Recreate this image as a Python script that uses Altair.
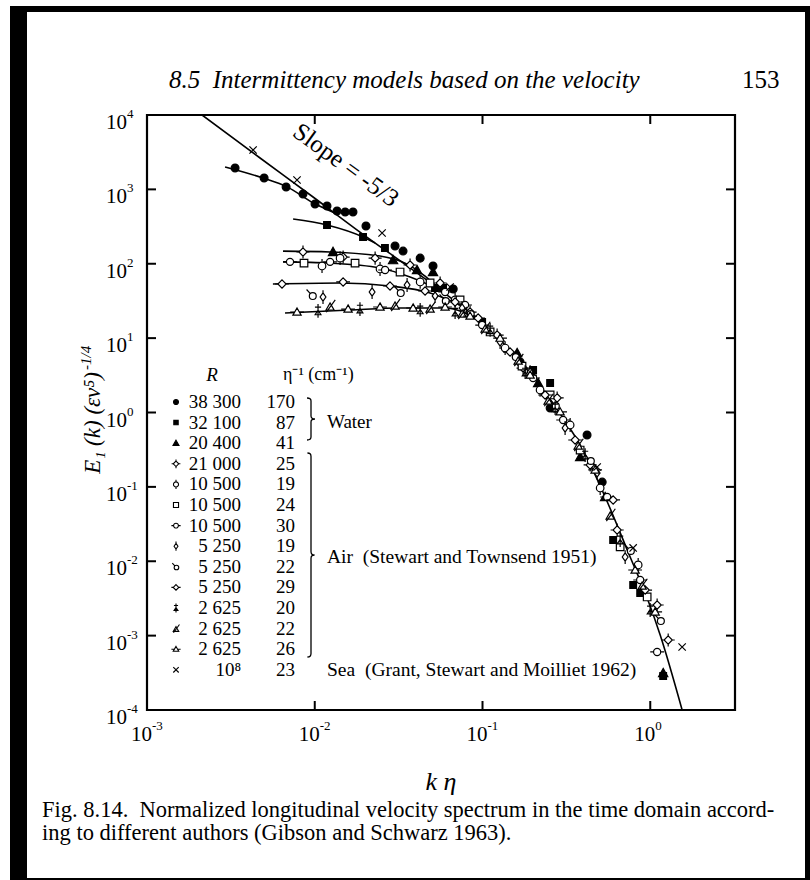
import altair as alt
import pandas as pd

FONT = "Liberation Serif"
W, H = 588, 595          # plot area (pixels)
PAD_L, PAD_T, PAD_R, PAD_B = 147, 115, 75, 170

X_DOMAIN = [0.001, 3.2]
Y_DOMAIN = [1e-4, 1e4]

x_decades = [0.001, 0.01, 0.1, 1.0]
x_exponents = ["-3", "-2", "-1", "0"]
y_decades = [1e4, 1e3, 1e2, 1e1, 1.0, 0.1, 0.01, 0.001, 1e-4]
y_exponents = ["4", "3", "2", "1", "0", "-1", "-2", "-3", "-4"]

# ---------------- fitted curves ----------------
main_k = [0.00213, 0.00472, 0.00977, 0.0186, 0.0407, 0.0559, 0.0735, 0.0967, 0.146, 0.2117, 0.3024, 0.3819, 0.5384, 0.7589, 0.9583, 1.146, 1.549]
main_E = [10000, 2642, 790, 267, 75.2, 44.4, 27.9, 17.0, 6.92, 2.57, 0.843, 0.366, 0.0731, 0.0114, 0.00321, 0.00102, 0.0001]
circ_k = [0.00292, 0.00492, 0.00684, 0.00977, 0.0132]
circ_E = [2000, 1420, 1080, 660, 480]
sq_k = [0.00743, 0.01183, 0.0194, 0.0229]
sq_E = [400, 332, 229, 190]
bra_k = [0.00647, 0.01233, 0.0245, 0.03456, 0.04546, 0.0559]
bra_E = [148, 144, 127, 102, 68.4, 44.4]
brb_k = [0.00647, 0.01233, 0.0245, 0.0370, 0.0559]
brb_E = [106, 102, 87.7, 66.3, 44.4]
brc_k = [0.00563, 0.01416, 0.0281, 0.0487, 0.0735]
brc_E = [53.4, 55.1, 50.2, 40.4, 27.9]
brd_k = [0.00665, 0.01624, 0.03225, 0.05984, 0.0967]
brd_E = [21.8, 23.9, 25.4, 25.4, 17.0]

# ---------------- measured points ----------------
w38300_k = [0.00335, 0.00499, 0.00675, 0.00851, 0.01004, 0.01183, 0.01358, 0.01518, 0.0169, 0.0202, 0.0301, 0.0336, 0.0425, 0.0507, 0.0669, 0.1675, 0.253, 0.420, 0.517]
w38300_E = [1938, 1422, 1076, 866, 636, 598, 512, 497, 497, 322, 173, 148, 119, 93.3, 45.8, 4.78, 1.15, 0.498, 0.116]
w32100_k = [0.01183, 0.0194, 0.0262, 0.0521, 0.0582, 0.0995, 0.2003, 0.253, 0.601, 0.791, 0.871, 1.194]
w32100_E = [332, 229, 163, 47.2, 47.2, 16.5, 3.73, 2.49, 0.0193, 0.0048, 0.00374, 0.000286]
w20400_k = [0.01285, 0.0293, 0.0407, 0.0507, 0.1608, 0.2146, 0.382, 0.538, 0.895, 1.194]
w20400_E = [144, 112, 82.4, 77.4, 6.31, 2.49, 0.252, 0.0731, 0.0041, 0.000314]
a21000_k = [0.00851, 0.01476, 0.0229, 0.0370, 0.0559, 0.0843, 0.1222, 0.1746, 0.2786, 0.4382, 0.6348, 1.099, 1.279]
a21000_E = [144, 123, 119, 96.2, 55.1, 22.4, 11.0, 3.96, 1.57, 0.197, 0.0263, 0.00258, 0.000873]
a10500a_k = [0.01105, 0.01416, 0.0245, 0.0425, 0.06865, 0.1364, 0.2204, 0.333, 0.5028, 0.8471]
a10500a_E = [93.3, 119, 85.0, 56.9, 32.6, 7.36, 2.01, 0.679, 0.0966, 0.00891]
a10500b_k = [0.00863, 0.01739, 0.03225, 0.0487, 0.0735, 0.111, 0.172, 0.253, 0.3819, 0.6615, 0.9583]
a10500b_E = [102, 102, 77.4, 55.1, 32.6, 12.1, 4.2, 1.72, 0.313, 0.0156, 0.00331]
a10500c_k = [0.00712, 0.01234, 0.02626, 0.05984, 0.0787, 0.0995, 0.2003, 0.3024, 0.5534, 0.8706, 1.099]
a10500c_E = [106, 106, 82.4, 41.7, 27.9, 15.0, 2.91, 0.793, 0.0731, 0.0056, 0.000603]
a5250a_k = [0.0112, 0.02197, 0.03552, 0.05217, 0.07557, 0.1273, 0.1922, 0.3107, 0.4825, 0.7086]
a5250a_E = [35.7, 41.7, 51.8, 36.9, 25.4, 8.87, 3.50, 0.619, 0.154, 0.0114]
a5250b_k = [0.00964, 0.03225, 0.05984, 0.0843, 0.1564, 0.271, 0.4382, 0.7589, 1.146]
a5250b_E = [38.0, 41.7, 32.6, 21.8, 5.75, 1.26, 0.230, 0.0142, 0.00162]
a5250c_k = [0.00638, 0.01476, 0.0281, 0.04546, 0.06865, 0.0942, 0.146, 0.2362, 0.3566, 0.6008, 0.9324]
a5250c_E = [53.4, 56.9, 50.2, 43.0, 30.6, 18.6, 6.50, 1.72, 0.427, 0.0667, 0.0041]
a2625a_k = [0.01046, 0.0186, 0.0425, 0.06865, 0.111, 0.1795, 0.271, 0.409, 0.6615, 0.9986]
a2625a_E = [23.2, 24.6, 23.9, 22.4, 12.9, 3.50, 1.15, 0.268, 0.0193, 0.00221]
a2625b_k = [0.01234, 0.0301, 0.0487, 0.07557, 0.1036, 0.1631, 0.2461, 0.3716, 0.5768, 0.8948]
a2625b_E = [27.0, 27.9, 25.4, 21.8, 13.7, 5.08, 1.47, 0.366, 0.0419, 0.0048]
a2625c_k = [0.00784, 0.0158, 0.0245, 0.03858, 0.05984, 0.0843, 0.1273, 0.1922, 0.2901, 0.4693, 0.8126, 1.070]
a2625c_E = [22.4, 24.6, 26.2, 25.4, 26.2, 19.8, 10.0, 3.19, 1.02, 0.169, 0.00763, 0.00208]
sea_k = [0.00429, 0.00784, 0.0252, 0.0641, 0.4825, 0.7907, 1.549]
sea_E = [3384, 1337, 259, 48.7, 0.185, 0.0151, 0.000703]

# ---------------- legend table ----------------
series_ids = ["w38300", "w32100", "w20400", "a21000", "a10500a", "a10500b", "a10500c",
              "a5250a", "a5250b", "a5250c", "a2625a", "a2625b", "a2625c", "sea"]
legend_R = ["38 300", "32 100", "20 400", "21 000", "10 500", "10 500", "10 500",
            "5 250", "5 250", "5 250", "2 625", "2 625", "2 625", "10\u2078"]
legend_eta = ["170", "87", "41", "25", "19", "24", "30", "19", "22", "29", "20", "22", "26", "23"]

# marker glyphs (unit square -1..1)
def CIRC(r, cx=0, cy=0):
    return (f"M{cx+r},{cy} A{r},{r} 0 1,1 {cx-r},{cy} "
            f"A{r},{r} 0 1,1 {cx+r},{cy} Z")

shape_paths = [
    CIRC(0.85),
    "M-0.8,-0.8 L0.8,-0.8 L0.8,0.8 L-0.8,0.8 Z",
    "M0,-0.95 L0.95,0.75 L-0.95,0.75 Z",
    "M0,-0.6 L0.6,0 L0,0.6 L-0.6,0 Z M0,-0.6 L0,-0.95 M0,0.6 L0,0.95 M-0.6,0 L-0.95,0 M0.6,0 L0.95,0",
    CIRC(0.55) + " M0,-0.55 L0,-1 M0,0.55 L0,1",
    "M-0.55,-0.55 L0.55,-0.55 L0.55,0.55 L-0.55,0.55 Z",
    CIRC(0.52) + " M-0.52,0 L-1,0 M0.52,0 L1,0",
    "M0,-0.6 L0.42,0 L0,0.6 L-0.42,0 Z M0,-0.6 L0,-1 M0,0.6 L0,1",
    CIRC(0.5, 0.1, 0.15) + " M-0.25,-0.2 L-0.8,-0.8",
    "M0,-0.6 L0.6,0 L0,0.6 L-0.6,0 Z M-0.6,0 L-1,0 M0.6,0 L1,0",
    "M0,-1 L0,1 M-0.45,-0.55 L0.45,-0.55 M0,-0.1 L0.42,0.55 L-0.42,0.55 Z",
    "M-0.6,0.6 L0.6,0.6 L0,-0.45 Z M-0.55,0.9 L0.75,-0.9",
    "M0,-0.6 L0.6,0.45 L-0.6,0.45 Z M-0.35,0 L-1,0 M0.35,0 L1,0",
    "M-0.7,-0.7 L0.7,0.7 M-0.7,0.7 L0.7,-0.7",
]
shape_fills = ["black", "black", "black"] + ["white"] * 11
plot_sizes = [85, 70, 95] + [190] * 10 + [110]
legend_sizes = [34, 30, 40] + [85] * 10 + [60]

# ---------------- data frames ----------------
curves = [("main", main_k, main_E), ("circ", circ_k, circ_E), ("sq", sq_k, sq_E),
          ("a", bra_k, bra_E), ("b", brb_k, brb_E), ("c", brc_k, brc_E), ("d", brd_k, brd_E)]
curve_df = pd.concat([pd.DataFrame({"curve": n, "k": k, "E": e}) for n, k, e in curves])

series_data = [w38300_k, w32100_k, w20400_k, a21000_k, a10500a_k, a10500b_k, a10500c_k,
               a5250a_k, a5250b_k, a5250c_k, a2625a_k, a2625b_k, a2625c_k, sea_k]
series_vals = [w38300_E, w32100_E, w20400_E, a21000_E, a10500a_E, a10500b_E, a10500c_E,
               a5250a_E, a5250b_E, a5250c_E, a2625a_E, a2625b_E, a2625c_E, sea_E]
pts_df = pd.concat([pd.DataFrame({"sid": s, "k": k, "E": e, "sz": sz})
                    for s, k, e, sz in zip(series_ids, series_data, series_vals, plot_sizes)])

leg_df = pd.DataFrame({"i": list(range(len(series_ids))), "sid": series_ids,
                       "R": legend_R, "eta": legend_eta, "sz": legend_sizes})
xdf = pd.DataFrame({"v": x_decades, "e": x_exponents})
ydf = pd.DataFrame({"v": y_decades, "e": y_exponents})
one = pd.DataFrame({"a": [0]})

xs = alt.Scale(type="log", domain=X_DOMAIN, nice=False)
ys = alt.Scale(type="log", domain=Y_DOMAIN, nice=False)
shape_enc = alt.Shape("sid:N", scale=alt.Scale(domain=series_ids, range=shape_paths), legend=None)
fill_enc = alt.Fill("sid:N", scale=alt.Scale(domain=series_ids, range=shape_fills), legend=None)
size_enc = alt.Size("sz:Q", scale=None, legend=None)

ROW0, ROWSTEP, DEC = 287, 20.6, H / 8.0
row_expr = f"pow(10, 4 - ({ROW0} + {ROWSTEP} * datum.i) / {DEC})"


def txt(text, x, y, size=18, font=FONT, **kw):
    return alt.Chart(one).mark_text(text=text, font=font, fontSize=size, color="black", **kw).encode(
        x=alt.value(x), y=alt.value(y))


# page frame
frame = alt.Chart(one).mark_rect(color="black").encode(
    x=alt.value(10 - PAD_L), x2=alt.value(810 - PAD_L), y=alt.value(6 - PAD_T), y2=alt.value(880 - PAD_T))
page = alt.Chart(one).mark_rect(color="white").encode(
    x=alt.value(27 - PAD_L), x2=alt.value(805 - PAD_L), y=alt.value(12 - PAD_T), y2=alt.value(878 - PAD_T))
plot_box = alt.Chart(one).mark_rect(fill=None, stroke="black", strokeWidth=2.2, fillOpacity=0).encode(
    x=alt.value(0), x2=alt.value(W), y=alt.value(0), y2=alt.value(H))

lines = alt.Chart(curve_df).mark_line(color="black", strokeWidth=1.6, interpolate="monotone", clip=True).encode(
    x=alt.X("k:Q", scale=xs, axis=None), y=alt.Y("E:Q", scale=ys, axis=None), detail="curve:N")

points = alt.Chart(pts_df).mark_point(filled=False, stroke="black", strokeWidth=1.2, opacity=1,
                                      fillOpacity=1, clip=True).encode(
    x=alt.X("k:Q", scale=xs, axis=None), y=alt.Y("E:Q", scale=ys, axis=None),
    shape=shape_enc, fill=fill_enc, size=size_enc)

# inward ticks
tk = dict(color="black", strokeWidth=2)
t_bottom = alt.Chart(xdf).mark_rule(**tk).encode(x=alt.X("v:Q", scale=xs, axis=None), y=alt.value(H), y2=alt.value(H - 9))
t_top = alt.Chart(xdf).mark_rule(**tk).encode(x=alt.X("v:Q", scale=xs, axis=None), y=alt.value(0), y2=alt.value(9))
t_left = alt.Chart(ydf).mark_rule(**tk).encode(y=alt.Y("v:Q", scale=ys, axis=None), x=alt.value(0), x2=alt.value(9))
t_right = alt.Chart(ydf).mark_rule(**tk).encode(y=alt.Y("v:Q", scale=ys, axis=None), x=alt.value(W), x2=alt.value(W - 9))

# tick labels 10^n
xl_base = alt.Chart(xdf).mark_text(text="10", font=FONT, fontSize=21, align="right", dx=5).encode(
    x=alt.X("v:Q", scale=xs, axis=None), y=alt.value(H + 25))
xl_exp = alt.Chart(xdf).mark_text(font=FONT, fontSize=13, align="left", dx=5).encode(
    x=alt.X("v:Q", scale=xs, axis=None), y=alt.value(H + 16), text="e:N")
yl_base = alt.Chart(ydf).mark_text(text="10", font=FONT, fontSize=21, align="right", dy=8).encode(
    y=alt.Y("v:Q", scale=ys, axis=None), x=alt.value(-20))
yl_exp = alt.Chart(ydf).mark_text(font=FONT, fontSize=13, align="left", dy=-1).encode(
    y=alt.Y("v:Q", scale=ys, axis=None), x=alt.value(-20), text="e:N")

# legend table
leg_base = alt.Chart(leg_df).transform_calculate(Erow=row_expr)
leg_sym = leg_base.mark_point(filled=False, stroke="black", strokeWidth=1.1, opacity=1, fillOpacity=1).encode(
    x=alt.value(29), y=alt.Y("Erow:Q", scale=ys, axis=None), shape=shape_enc, fill=fill_enc, size=size_enc)
leg_R = leg_base.mark_text(font=FONT, fontSize=19, align="right", baseline="middle").encode(
    x=alt.value(94), y=alt.Y("Erow:Q", scale=ys, axis=None), text="R:N")
leg_eta = leg_base.mark_text(font=FONT, fontSize=19, align="right", baseline="middle").encode(
    x=alt.value(148), y=alt.Y("Erow:Q", scale=ys, axis=None), text="eta:N")

water_brace = "M-0.19,-1 Q0,-1 0,-0.86 L0,-0.14 Q0,0 0.19,0 Q0,0 0,0.14 L0,0.86 Q0,1 -0.19,1"
air_brace = "M-0.035,-1 Q0,-1 0,-0.965 L0,-0.035 Q0,0 0.035,0 Q0,0 0,0.035 L0,0.965 Q0,1 -0.035,1"
b1 = alt.Chart(one).mark_point(shape=water_brace, size=42 * 42, filled=False, stroke="black",
                               strokeWidth=1.3, opacity=1).encode(x=alt.value(164), y=alt.value(304))
b2 = alt.Chart(one).mark_point(shape=air_brace, size=204 * 204, filled=False, stroke="black",
                               strokeWidth=1.3, opacity=1).encode(x=alt.value(164), y=alt.value(440))

annots = [
    txt("R", 65, 260, 19, fontStyle="italic", align="center", baseline="middle"),
    txt("\u03b7\u207b\u00b9 (cm\u207b\u00b9)", 136, 260, 18, align="left", baseline="middle"),
    txt("Water", 180, 307, 19, align="left", baseline="middle"),
    txt("Air\u2002(Stewart and Townsend 1951)", 180, 442, 19.5, align="left", baseline="middle"),
    txt("Sea\u2002(Grant, Stewart and Moilliet 1962)", 180, 555, 19.5, align="left", baseline="middle"),
    txt("Slope = -5/3", 199, 50, 25, angle=36, align="center", baseline="middle"),
    txt("k \u03b7", W / 2, 667, 26, fontStyle="italic", align="center"),
    txt("E\u2081 (k) (\u03b5\u03bd\u2075)", -54, 257, 23, fontStyle="italic", angle=270, align="right"),
    txt("-1/4", -61, 255, 15, fontStyle="italic", angle=270, align="left"),
    txt("8.5\u2002Intermittency models based on the velocity", 22, -35, 25, fontStyle="italic", align="left"),
    txt("153", 595, -35, 25, align="left"),
    txt("Fig. 8.14.\u2002Normalized longitudinal velocity spectrum in the time domain accord-",
        -105, 695, 22.5, align="left"),
    txt("ing to different authors (Gibson and Schwarz 1963).", -105, 718, 22.5, align="left"),
]

chart = alt.layer(
    frame, page, lines, points, t_bottom, t_top, t_left, t_right, plot_box,
    xl_base, xl_exp, yl_base, yl_exp, leg_sym, leg_R, leg_eta, b1, b2, *annots
).properties(
    width=W, height=H,
    autosize=alt.AutoSizeParams(type="none"),
    padding={"left": PAD_L, "top": PAD_T, "right": PAD_R, "bottom": PAD_B},
    background="white",
).configure_view(stroke=None)

chart.save("out.html", embed_options={"renderer": "svg", "actions": False})
